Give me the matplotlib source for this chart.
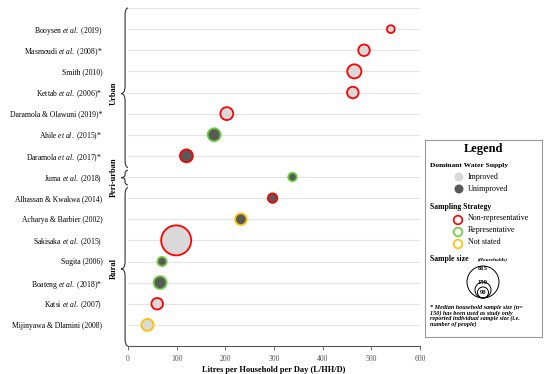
import numpy as np
import matplotlib
matplotlib.use("Agg")
import matplotlib.pyplot as plt
from matplotlib.path import Path
from matplotlib.patches import PathPatch, Circle
import matplotlib.transforms as mtransforms

plt.rcParams['font.family'] = ['Liberation Serif', 'DejaVu Serif']
plt.rcParams['mathtext.fontset'] = 'custom'
plt.rcParams['mathtext.rm'] = 'Liberation Serif'
plt.rcParams['mathtext.it'] = 'Liberation Serif:italic'
plt.rcParams['mathtext.bf'] = 'Liberation Serif:bold'

# studies, top to bottom
studies = [r"Booysen $\it{et\ al.}$ (2019)", r"Masmoudi $\it{et\ al.}$ (2008)*", "Smith (2010)",
           r"Kettab $\it{et\ al.}$ (2006)*", "Daramola & Olawuni (2019)*", r"Ahile $\it{et\ al.}$ (2015)*",
           r"Daramola $\it{et\ al.}$ (2017)*", r"Juma $\it{et\ al.}$ (2018)", "Alhassan & Kwakwa (2014)",
           "Acharya & Barbier (2002)", r"Sakisaka $\it{et\ al.}$ (2015)", "Sugita (2006)",
           r"Boateng $\it{et\ al.}$ (2018)*", r"Katsi $\it{et\ al.}$ (2007)", "Mijinyawa & Dlamini (2008)"]
litres = [540, 485, 465, 462, 203, 177, 120, 338, 297, 232, 99, 70, 66, 60, 40]
sample = [55, 120, 180, 120, 150, 150, 150, 65, 80, 120, 815, 75, 150, 120, 130]
supply = ["Improved", "Improved", "Improved", "Improved", "Improved", "Unimproved", "Unimproved",
          "Unimproved", "Unimproved", "Unimproved", "Improved", "Unimproved", "Unimproved",
          "Improved", "Improved"]
strategy = ["Non", "Non", "Non", "Non", "Non", "Rep", "Non", "Rep", "Non", "NS", "Non", "Rep",
            "Rep", "Non", "NS"]

fill_col = {"Improved": "#d9d9d9", "Unimproved": "#595959"}
edge_col = {"Non": "#ff0000", "Rep": "#6ccc3c", "NS": "#ffc000"}

fig = plt.figure(figsize=(5.5, 3.74), dpi=100)
ax = fig.add_axes([128/550, 28/374, 292/550, 338/374])

n = len(studies)
ypos = np.arange(n, 0, -1)
ax.scatter(litres, ypos, s=np.array(sample) * 0.5725,
           c=[fill_col[s] for s in supply], edgecolors=[edge_col[s] for s in strategy],
           linewidths=1.3, zorder=3)

ax.set_xlim(0, 600)
ax.set_ylim(0, 16)
ax.set_xticks(range(0, 601, 100))
ax.set_yticks(ypos)
ax.set_yticklabels(studies, fontsize=5.5)
ax.tick_params(axis='y', length=0, pad=18.5)
ax.tick_params(axis='x', labelsize=5.6, colors='#555555', length=3, width=0.6)
for yy in list(ypos) + [16]:
    ax.axhline(yy, color='#e4e4e4', lw=0.8, zorder=1)
for side in ['top', 'right', 'left']:
    ax.spines[side].set_visible(False)
ax.spines['bottom'].set_color('#555555')
ax.spines['bottom'].set_linewidth(0.8)
ax.set_xlabel("Litres per Household per Day (L/HH/D)", fontsize=6, fontweight='bold', labelpad=2)

# curly braces for setting
trans = mtransforms.blended_transform_factory(ax.transAxes, ax.transData)

def brace(y0, y1, ym, xb=-0.010, t=0.014, e=0.010, r=0.35):
    verts = [(xb + e, y1), (xb, y1), (xb, y1 - r), (xb, ym + r), (xb, ym), (xb - t, ym),
             (xb, ym), (xb, ym - r), (xb, y0 + r), (xb, y0), (xb + e, y0)]
    codes = [Path.MOVETO, Path.CURVE3, Path.CURVE3, Path.LINETO, Path.CURVE3, Path.CURVE3,
             Path.CURVE3, Path.CURVE3, Path.LINETO, Path.CURVE3, Path.CURVE3]
    ax.add_patch(PathPatch(Path(verts, codes), transform=trans, fc='none', ec='#333333',
                           lw=0.8, clip_on=False))

brace(8.45, 16, 11.95)
brace(7.62, 8.32, 7.97, r=0.15)
brace(0.0, 7.5, 3.65)
for label, yc in [("Urban", 11.95), ("Peri-urban", 8.0), ("Rural", 3.65)]:
    ax.text(-0.050, yc, label, transform=trans, rotation=90, ha='center', va='center',
            fontsize=6, fontweight='bold')

# legend box
lg = fig.add_axes([425/550, 37/374, 117/550, 197/374])
lg.set_xlim(0, 117)
lg.set_ylim(197, 0)
lg.set_xticks([])
lg.set_yticks([])
for sp in lg.spines.values():
    sp.set_color('#999999')
    sp.set_linewidth(0.8)

lg.text(58.5, 9, "Legend", ha='center', va='center', fontsize=9, fontweight='bold')
lg.text(5, 25, "Dominant Water Supply", va='center', fontsize=5.4, fontweight='bold')
for yy, key in [(37, "Improved"), (49, "Unimproved")]:
    lg.add_patch(Circle((34, yy), 4.5, fc=fill_col[key], ec='none'))
    lg.text(43, yy, key, va='center', fontsize=5.8)
lg.text(5, 67, "Sampling Strategy", va='center', fontsize=5.6, fontweight='bold')
for yy, key, name in [(80, "Non", "Non-representative"), (92, "Rep", "Representative"),
                      (104, "NS", "Not stated")]:
    lg.add_patch(Circle((33, yy), 4.3, fc='none', ec=edge_col[key], lw=1.2))
    lg.text(43, yy - 1.5, name, va='center', fontsize=5.8)
lg.text(5, 119, "Sample size", va='center', fontsize=5.6, fontweight='bold')
lg.text(53, 119.3, "(Households)", va='center', fontsize=3.9, fontweight='bold', style='italic')
for nn, rr, ly in [(815, 16, 128.5), (150, 8, 143), (90, 5.5, 152.5)]:
    lg.add_patch(Circle((58, 158 - rr), rr, fc='none', ec='black', lw=0.7))
    lg.text(58, ly, str(nn), ha='center', va='center', fontsize=4.8, fontweight='bold')
note = ["* Median household sample size (n=", "150) has been used as study only",
        "reported individual sample size (i.e.", "number of people)"]
for i, line in enumerate(note):
    lg.text(5, 167 + i * 5.8, line, va='center', fontsize=4.4, fontweight='bold', style='italic')

fig.savefig("out.png", dpi=100)
